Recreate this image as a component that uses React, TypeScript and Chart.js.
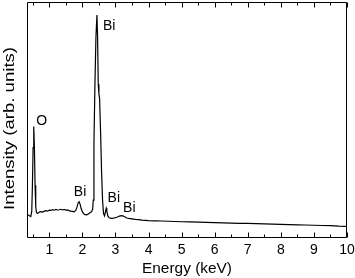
import React, { useEffect, useRef } from "react";
import { Chart, registerables } from "chart.js";

Chart.register(...registerables);

// Energy (keV) and measured intensity (arb. units, 0-100 scale)
const energy = [
  0.33, 0.36, 0.40, 0.44, 0.47, 0.49, 0.51, 0.53, 0.55, 0.57, 0.59, 0.61, 0.64, 0.67, 0.70,
  0.75, 0.80, 0.85, 0.90, 0.95, 1.00, 1.05, 1.10, 1.15, 1.20, 1.25, 1.30, 1.35, 1.40, 1.45,
  1.50, 1.55, 1.60, 1.65, 1.70, 1.75, 1.80, 1.84, 1.87, 1.90, 1.93, 1.96, 2.00, 2.04, 2.08,
  2.12, 2.16, 2.20, 2.24, 2.28, 2.31, 2.33, 2.35, 2.38, 2.41, 2.44, 2.46, 2.48, 2.50, 2.52,
  2.55, 2.58, 2.61, 2.64, 2.67, 2.70, 2.72, 2.74, 2.77, 2.81, 2.85, 2.89, 2.94, 2.99, 3.04,
  3.09, 3.14, 3.19, 3.24, 3.29, 3.34, 3.40, 3.50, 3.60, 3.70, 3.80, 3.90, 4.00, 4.20, 4.40,
  4.60, 4.80, 5.00, 5.25, 5.50, 5.75, 6.00, 6.25, 6.50, 6.75, 7.00, 7.25, 7.50, 7.75, 8.00,
  8.25, 8.50, 8.75, 9.00, 9.25, 9.50, 9.75, 10.00,
];
const intensity = [
  9.8, 9.4, 9.0, 8.7, 11.0, 22.0, 38.0, 47.0, 38.0, 22.0, 13.0, 10.5, 10.0, 10.3, 10.6,
  10.8, 10.6, 11.0, 11.2, 11.0, 11.4, 11.3, 11.6, 11.4, 11.7, 11.5, 11.6, 11.8, 11.5, 11.7,
  11.4, 11.5, 11.2, 11.0, 10.9, 10.7, 11.3, 12.8, 14.5, 15.0, 14.0, 12.2, 10.8, 9.9, 9.5,
  9.4, 9.6, 10.0, 10.4, 10.8, 11.8, 15.7, 40.0, 65.0, 85.0, 94.5, 85.0, 65.0, 61.0, 59.0,
  45.0, 28.0, 15.7, 10.0, 9.0, 10.8, 12.2, 10.9, 9.0, 8.2, 8.0, 7.9, 8.0, 8.2, 8.4,
  8.7, 9.0, 9.1, 8.9, 8.5, 8.1, 7.9, 7.7, 7.5, 7.4, 7.2, 7.1, 7.0, 6.9, 6.8,
  6.7, 6.6, 6.5, 6.4, 6.3, 6.2, 6.1, 6.0, 5.9, 5.8, 5.8, 5.7, 5.6, 5.5, 5.4,
  5.3, 5.2, 5.1, 5.0, 4.9, 4.8, 4.6, 4.5,
];

const majorTicks = [1, 2, 3, 4, 5, 6, 7, 8, 9, 10];
const minorTicks = [0.5, 1.5, 2.5, 3.5, 4.5, 5.5, 6.5, 7.5, 8.5, 9.5];

const peakLabels = ["O", "Bi", "Bi", "Bi", "Bi"];
const peakLabelX = [0.77, 2.81, 1.93, 2.95, 3.42];
const peakLabelY = [49.6, 90.2, 19.4, 17.1, 12.6];

const xTitle = "Energy (keV)";
const yTitle = "Intensity (arb. units)";

const FONT = "'Liberation Sans', Arial, Helvetica, sans-serif";

const decorPlugin = {
  id: "decor",
  afterDraw(chart: any) {
    const ctx = chart.ctx;
    const { left, top, right, bottom } = chart.chartArea;
    const xs = chart.scales.x;
    const ys = chart.scales.y;
    ctx.save();
    ctx.strokeStyle = "#000";
    ctx.lineWidth = 1;
    // frame
    const L = Math.round(left) + 0.5;
    const R = Math.round(right) - 0.5;
    const T = Math.round(top) + 0.5;
    const B = Math.round(bottom) + 0.5;
    ctx.beginPath();
    ctx.rect(L, T, R - L, B - T);
    ctx.stroke();
    // inward ticks, top and bottom
    const drawTick = (v: number, len: number) => {
      const px = Math.round(xs.getPixelForValue(v)) + 0.5;
      ctx.beginPath();
      ctx.moveTo(px, B);
      ctx.lineTo(px, B - len);
      ctx.moveTo(px, T);
      ctx.lineTo(px, T + len);
      ctx.stroke();
    };
    majorTicks.forEach((v) => drawTick(v, 5));
    minorTicks.forEach((v) => drawTick(v, 3));

    // peak labels
    ctx.fillStyle = "#000";
    ctx.font = `14px ${FONT}`;
    ctx.textAlign = "center";
    ctx.textBaseline = "middle";
    peakLabels.forEach((t, i) => {
      ctx.fillText(t, xs.getPixelForValue(peakLabelX[i]), ys.getPixelForValue(peakLabelY[i]) + 1);
    });

    // x title
    ctx.font = `15px ${FONT}`;
    ctx.textBaseline = "alphabetic";
    const xw = ctx.measureText(xTitle).width;
    ctx.save();
    ctx.translate((left + right) / 2, 273);
    ctx.scale(90 / xw, 1);
    ctx.fillText(xTitle, 0, 0);
    ctx.restore();

    // y title (rotated)
    const yw = ctx.measureText(yTitle).width;
    ctx.save();
    ctx.translate(13.5, 128.5);
    ctx.rotate(-Math.PI / 2);
    ctx.scale(163 / yw, 1);
    ctx.textBaseline = "alphabetic";
    ctx.fillText(yTitle, 0, 0);
    ctx.restore();

    ctx.restore();
  },
};

export default function App() {
  const ref = useRef<HTMLCanvasElement | null>(null);
  useEffect(() => {
    if (!ref.current) return;
    const chart = new Chart(ref.current, {
      type: "line",
      data: {
        datasets: [
          {
            data: energy.map((e, i) => ({ x: e, y: intensity[i] })),
            borderColor: "#000",
            borderWidth: 1.2,
            pointRadius: 0,
            tension: 0,
            fill: false,
          },
        ],
      },
      options: {
        animation: false,
        responsive: false,
        devicePixelRatio: 1,
        layout: { padding: { top: 2, right: 8, left: 0, bottom: 0 } },
        plugins: { legend: { display: false }, tooltip: { enabled: false } },
        scales: {
          x: {
            type: "linear",
            min: 0.326,
            max: 10,
            grid: { display: false, drawTicks: false },
            border: { display: false },
            ticks: {
              color: "#000",
              font: { family: FONT, size: 14 },
              padding: 5,
              maxRotation: 0,
              autoSkip: false,
            },
            afterBuildTicks: (scale: any) => {
              scale.ticks = majorTicks.map((v) => ({ value: v }));
            },
            afterFit: (scale: any) => {
              scale.height = 41;
              scale.paddingLeft = 0;
              scale.paddingRight = 0;
            },
          },
          y: {
            type: "linear",
            min: 0,
            max: 100,
            grid: { display: false, drawTicks: false },
            border: { display: false },
            ticks: { display: false },
            afterFit: (scale: any) => {
              scale.width = 27;
            },
          },
        },
      },
      plugins: [decorPlugin],
    } as any);
    return () => chart.destroy();
  }, []);
  return (
    <div style={{ position: "fixed", left: 0, top: 0, width: 355, height: 278, background: "#fff" }}>
      <canvas ref={ref} width={355} height={278} style={{ display: "block" }} />
    </div>
  );
}
